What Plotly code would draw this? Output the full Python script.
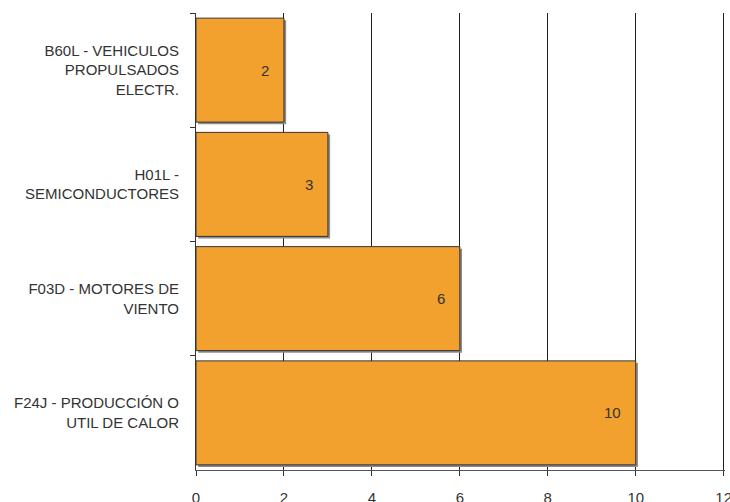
import plotly.graph_objects as go

categories = [
    "B60L - VEHICULOS<br>PROPULSADOS<br>ELECTR.",
    "H01L -<br>SEMICONDUCTORES",
    "F03D - MOTORES DE<br>VIENTO",
    "F24J - PRODUCCIÓN O<br>UTIL DE CALOR",
]
values = [2, 3, 6, 10]
x_ticks = [0, 2, 4, 6, 8, 10, 12]

BAR_W = 0.91
fig = go.Figure()
# shadow
fig.add_trace(go.Bar(
    y=categories, x=values, base=0.05, orientation="h",
    width=BAR_W, offset=-BAR_W / 2 + 0.018,
    marker=dict(color="#8c8c8c", line=dict(width=0)),
    hoverinfo="skip", showlegend=False,
))
# main bars
fig.add_trace(go.Bar(
    y=categories, x=values, orientation="h",
    width=BAR_W, offset=-BAR_W / 2,
    marker=dict(color="#F2A12E", line=dict(color="#333333", width=1)),
    showlegend=False,
))
for c, v in zip(categories, values):
    fig.add_annotation(x=v, y=c, text=str(v), showarrow=False,
                       xanchor="right", xshift=-13,
                       font=dict(family="Liberation Sans, Arial", size=15, color="#333333"))

fig.update_layout(
    width=730, height=502,
    margin=dict(l=196, r=5, t=13, b=32),
    paper_bgcolor="white", plot_bgcolor="white",
    barmode="overlay",
    font=dict(family="Liberation Sans, Arial", size=15, color="#333333"),
)
fig.update_xaxes(
    range=[0, 12.03], tickvals=x_ticks, showgrid=True, gridcolor="#222222", gridwidth=1,
    showline=True, linecolor="#555555", linewidth=1, automargin=False,
    ticks="outside", ticklen=5, tickcolor="#333333", zeroline=False,
    tickfont=dict(size=15, color="#333333"), ticklabelstandoff=9,
    ticklabeloverflow="allow",
)
fig.update_yaxes(
    type="category", range=[3.5, -0.5], tickson="boundaries", automargin=False,
    showline=True, linecolor="#333333", linewidth=1,
    ticks="outside", ticklen=5, tickcolor="#333333", showgrid=False,
    tickfont=dict(size=15, color="#333333"), ticklabelstandoff=13,
)
fig.write_html(
    "out.html",
    config={"displayModeBar": False},
    post_script="document.body.style.margin='0';document.body.style.overflow='hidden';",
)
